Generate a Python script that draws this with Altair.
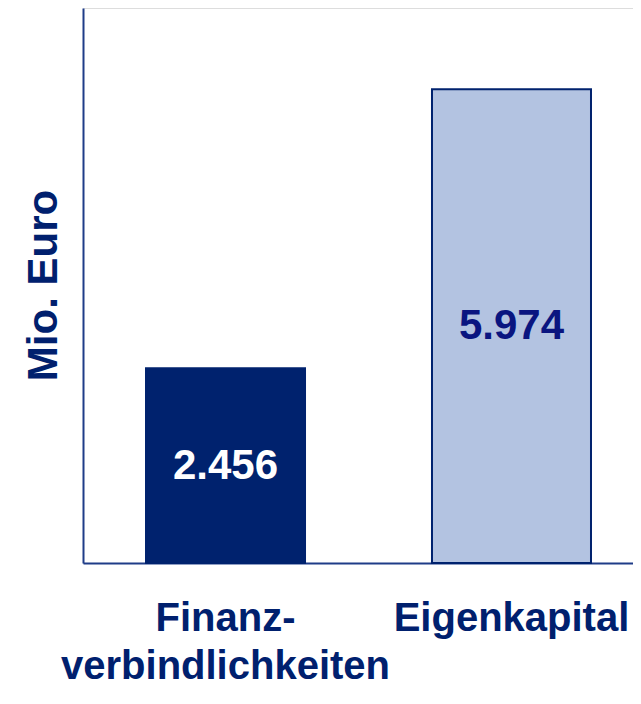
import altair as alt
import pandas as pd

categories = ["Finanz-\nverbindlichkeiten", "Eigenkapital"]
values = [2456, 5974]
value_labels = ["2.456", "5.974"]
bar_colors = ["#00226E", "#B3C3E1"]
label_colors = ["#FFFFFF", "#0A1580"]

df = pd.DataFrame({
    "cat": categories,
    "val": values,
    "lab": value_labels,
    "fill": bar_colors,
    "lc": label_colors,
})
df["mid"] = df["val"] / 2

NAVY = "#00206E"
AXIS = "#1F3C88"

x = alt.X(
    "cat:N",
    sort=categories,
    scale=alt.Scale(paddingInner=0.444, paddingOuter=0.1836, align=0.6),
    axis=alt.Axis(
        title=None,
        labelExpr="split(datum.label, '\\n')",
        labelFont="Liberation Sans",
        labelFontWeight="bold",
        labelFontSize=40,
        labelColor=NAVY,
        labelLineHeight=48,
        labelBaseline="alphabetic",
        labelPadding=67,
        labelAngle=0,
        labelOverlap=False,
        labelBound=False,
        labelFlush=False,
        labelLimit=2000,
        ticks=False,
        domainColor=AXIS,
        domainWidth=2,
        grid=False,
    ),
)

bars = alt.Chart(df).mark_bar(stroke="#00226E", strokeWidth=2).encode(
    x=x,
    y=alt.Y(
        "val:Q",
        scale=alt.Scale(domain=[0, 7000], nice=False),
        axis=alt.Axis(
            title="Mio. Euro",
            titleFont="Liberation Sans",
            titleFontWeight="bold",
            titleFontSize=42,
            titleColor=NAVY,
            titleAngle=-90,
            titleX=-40,
            titleY=277,
            titleAlign="center",
            titleBaseline="middle",
            labels=False,
            ticks=False,
            grid=False,
            domainColor=AXIS,
            domainWidth=2,
        ),
    ),
    fill=alt.Fill("fill:N", scale=None),
)

texts = alt.Chart(df).mark_text(
    font="Liberation Sans",
    fontWeight="bold",
    fontSize=42,
    baseline="middle",
    align="center",
).encode(
    x=alt.X("cat:N", sort=categories),
    y=alt.Y("mid:Q"),
    text="lab:N",
    color=alt.Color("lc:N", scale=None),
)

chart = (
    alt.layer(bars, texts)
    .properties(
        width=550,
        height=555,
        autosize=alt.AutoSizeParams(type="none"),
        padding={"left": 75, "top": 0, "right": 0, "bottom": 122},
    )
    .configure_view(strokeWidth=0, stroke="transparent", fill="white")
    .configure_axis(grid=False, gridOpacity=0)
    .configure(background="white")
)

chart.save("out.html", embed_options={"renderer": "svg", "actions": False})
